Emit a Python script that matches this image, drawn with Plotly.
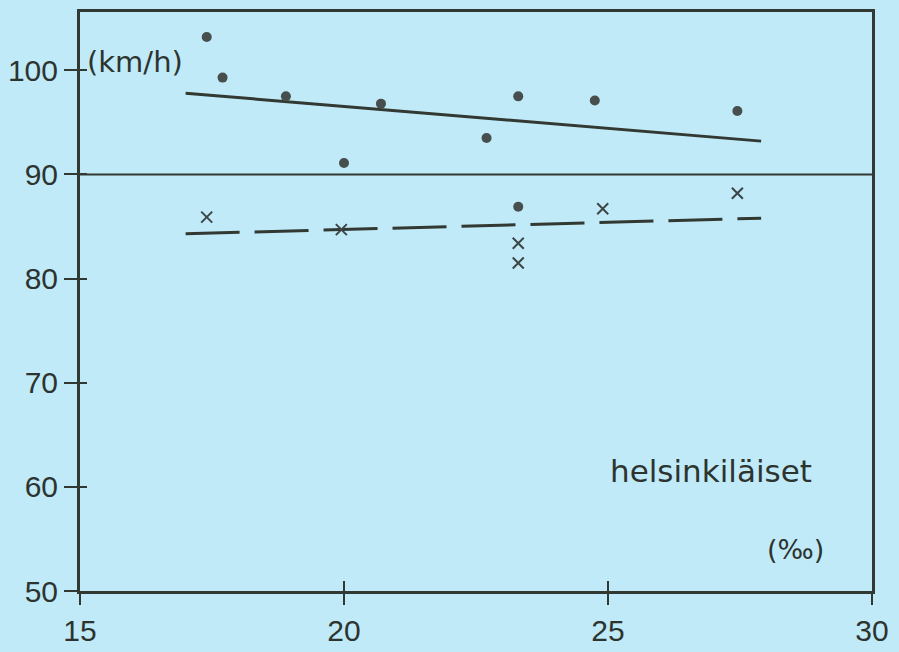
import plotly.graph_objects as go

# ---- data ----
dot_x = [17.4, 17.7, 18.9, 20.7, 20.0, 22.7, 23.3, 24.75, 27.45, 23.3]
dot_y = [103.2, 99.3, 97.5, 96.8, 91.1, 93.5, 97.5, 97.1, 96.1, 86.9]

cross_x = [17.4, 19.95, 24.9, 27.45, 23.3, 23.3]
cross_y = [85.9, 84.7, 86.7, 88.2, 83.4, 81.5]

fit_solid_x = [17.0, 27.9]
fit_solid_y = [97.8, 93.2]

fit_dash_x = [17.0, 27.9]
fit_dash_y = [84.3, 85.8]

ref_x = [15, 30]
ref_y = [90, 90]

x_ticks = [15, 20, 25, 30]
y_ticks = [50, 60, 70, 80, 90, 100]

BG = "rgb(192,234,248)"
INK = "rgb(50,56,50)"
FONT = "Liberation Sans"
LFONT = "DejaVu Sans"

fig = go.Figure()

fig.add_trace(go.Scatter(x=ref_x, y=ref_y, mode="lines",
                         line=dict(color=INK, width=2), showlegend=False))
fig.add_trace(go.Scatter(x=fit_solid_x, y=fit_solid_y, mode="lines",
                         line=dict(color=INK, width=3), showlegend=False))
fig.add_trace(go.Scatter(x=fit_dash_x, y=fit_dash_y, mode="lines",
                         line=dict(color=INK, width=3, dash="54px,15px"),
                         showlegend=False))
fig.add_trace(go.Scatter(x=dot_x, y=dot_y, mode="markers",
                         marker=dict(symbol="circle", size=10, color="rgb(70,78,78)"),
                         showlegend=False))
fig.add_trace(go.Scatter(x=cross_x, y=cross_y, mode="markers",
                         marker=dict(symbol="x-thin", size=11,
                                     line=dict(color="rgb(60,70,70)", width=2)),
                         showlegend=False))

# invisible trace on overlay axes so the inner half of each tick shows
fig.add_trace(go.Scatter(x=[15], y=[50], mode="markers", xaxis="x2", yaxis="y2",
                         marker=dict(opacity=0), showlegend=False, hoverinfo="skip"))

fig.update_layout(
    width=899, height=652,
    margin=dict(l=80, r=27, t=12, b=61, autoexpand=False),
    paper_bgcolor=BG, plot_bgcolor=BG,
    font=dict(family=FONT, color="rgb(45,52,48)", size=30),
    xaxis=dict(range=[15, 30], tickvals=x_ticks, ticks="outside", ticklen=11,
               tickwidth=2, tickcolor=INK, showgrid=False, zeroline=False,
               showline=True, linewidth=3, linecolor=INK, mirror=True,
               automargin=False, ticklabelstandoff=0,
               tickfont=dict(size=30, family=FONT)),
    yaxis=dict(range=[50, 105.6], tickvals=y_ticks, ticks="outside", ticklen=13,
               tickwidth=2, tickcolor=INK, showgrid=False, zeroline=False,
               showline=True, linewidth=3, linecolor=INK, mirror=True,
               automargin=False,
               tickfont=dict(size=30, family=FONT)),
    xaxis2=dict(range=[15, 30], tickvals=x_ticks, ticks="inside", ticklen=10,
                tickwidth=2, tickcolor=INK, showticklabels=False, showgrid=False,
                zeroline=False, overlaying="x", side="bottom", automargin=False),
    yaxis2=dict(range=[50, 105.6], tickvals=y_ticks, ticks="inside", ticklen=7,
                tickwidth=2, tickcolor=INK, showticklabels=False, showgrid=False,
                zeroline=False, overlaying="y", side="left", automargin=False),
    annotations=[
        dict(text="(km/h)", x=15.1, y=100.8, xref="x", yref="y", showarrow=False,
             xanchor="left", yanchor="middle", font=dict(size=29, family=LFONT)),
        dict(text="helsinkiläiset", x=26.95, y=61.5, xref="x", yref="y", showarrow=False,
             xanchor="center", yanchor="middle", font=dict(size=31, family=LFONT)),
        dict(text="(‰)", x=28.55, y=54.0, xref="x", yref="y", showarrow=False,
             xanchor="center", yanchor="middle", font=dict(size=27, family=LFONT)),
    ],
)

fig.write_html("out.html")
